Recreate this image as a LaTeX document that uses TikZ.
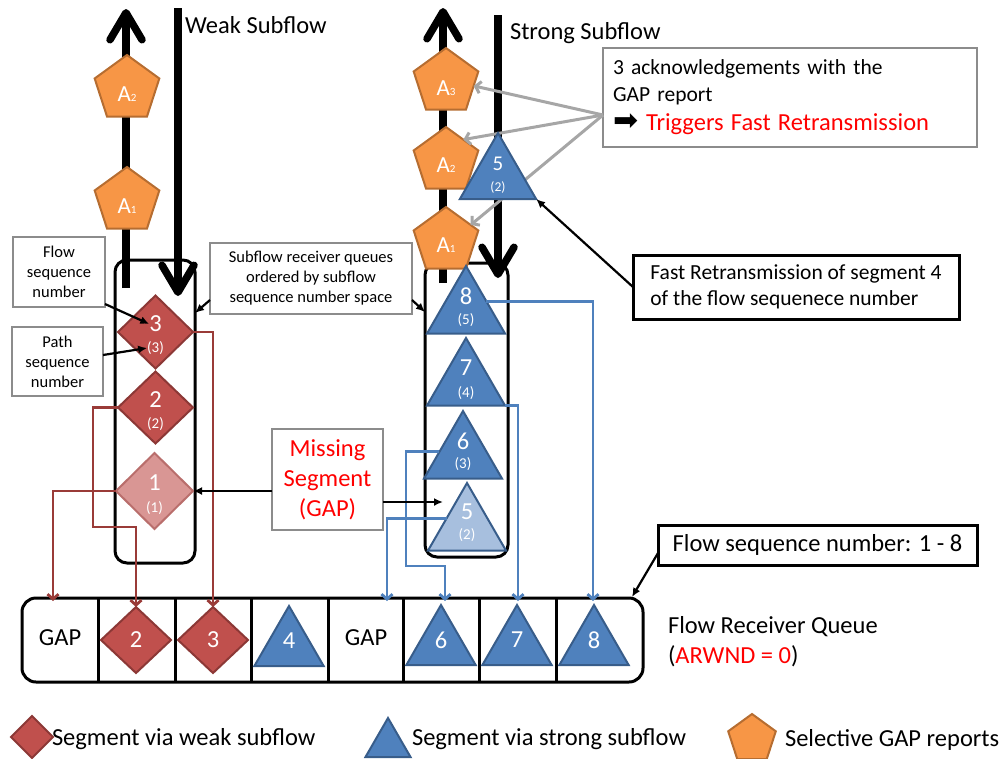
\documentclass[tikz,border=0pt]{standalone}
\usepackage{fontspec}
\setmainfont{Carlito}
\newfontfamily\dingfont{DejaVu Sans}
\usetikzlibrary{arrows.meta,shapes.geometric,calc}

\definecolor{segred}{HTML}{C0504D}
\definecolor{segredline}{HTML}{8C3836}
\definecolor{seglightred}{HTML}{D99694}
\definecolor{seglightredline}{HTML}{B96E6C}
\definecolor{segblue}{HTML}{4F81BD}
\definecolor{segblueline}{HTML}{385D8A}
\definecolor{seglightblue}{HTML}{A7BFDE}
\definecolor{ackorange}{HTML}{F79646}
\definecolor{ackorangeline}{HTML}{B66D31}
\definecolor{wirered}{HTML}{9A3B38}
\definecolor{wireblue}{HTML}{4F81BD}
\definecolor{notegray}{HTML}{8C8C8C}
\definecolor{ackgray}{HTML}{A6A6A6}
\definecolor{alertred}{HTML}{FF0000}

\newcommand\txtbig{\fontsize{24.5}{30}\selectfont}
\newcommand\txtmid{\fontsize{21.5}{27}\selectfont}
\newcommand\txtsmall{\fontsize{16.5}{20}\selectfont}
\newcommand\ackidx[1]{{\fontsize{11}{10}\selectfont #1}}

\begin{document}
\begin{tikzpicture}[x=1pt,y=-1pt,
  every node/.style={inner sep=0pt,outer sep=0pt},
  subqueue/.style={draw=black,line width=3,rounded corners=12},
  flowarrow/.style={line width=7.5,-{Straight Barb[length=27pt,width=32pt,line width=7.5pt,round]}},
  weakseg/.style={diamond,draw=segredline,fill=segred,line width=2},
  weaklost/.style={diamond,draw=seglightredline,fill=seglightred,line width=2},
  strongseg/.style={regular polygon,regular polygon sides=3,draw=segblueline,fill=segblue,line width=2},
  stronglost/.style={strongseg,fill=seglightblue},
  gapack/.style={regular polygon,regular polygon sides=5,draw=ackorangeline,fill=ackorange,line width=2},
  segnum/.style={text=white,font=\fontsize{24.5}{25}\selectfont},
  segsub/.style={text=white,font=\fontsize{15}{15}\selectfont},
  acklabel/.style={text=white,font=\fontsize{23}{23}\selectfont},
  notebox/.style={draw=notegray,line width=1.2,fill=white,align=center,font=\txtsmall},
  keybox/.style={draw=black,line width=3,fill=white},
  bigtext/.style={font=\txtbig},
  notearrow/.style={draw=black,line width=2.2,-{Latex[length=9pt,width=8pt]}},
  ackarrow/.style={draw=ackgray,line width=3,-{Straight Barb[length=5pt,width=12pt]}},
  redwire/.style={draw=wirered,line width=2.8,-{Straight Barb[length=5pt,width=11pt]}},
  bluewire/.style={draw=wireblue,line width=2.8,-{Straight Barb[length=5pt,width=11pt]}}
]
\useasboundingbox (0,0) rectangle (1008,758);

% ---- subflow receiver queues
\node[subqueue,minimum width=80,minimum height=303] (wq) at (155,411.5) {};
\node[subqueue,minimum width=83,minimum height=294] (sq) at (466.5,410) {};

% ---- subflow directions (data down, GAP reports up)
\coordinate (wupfrom) at (126,288);
\coordinate (wupto) at (126,9);
\coordinate (wdnfrom) at (178,8);
\coordinate (wdnto) at (178,296);
\coordinate (supfrom) at (443,283);
\coordinate (supto) at (443,8);
\coordinate (sdnfrom) at (498,15);
\coordinate (sdnto) at (498,278);
\draw[flowarrow] (wupfrom) -- (wupto);
\draw[flowarrow] (wdnfrom) -- (wdnto);
\draw[flowarrow] (supfrom) -- (supto);
\draw[flowarrow] (sdnfrom) -- (sdnto);
\node[bigtext,anchor=base west] (wtitle) at (185,33) {Weak Subflow};
\node[bigtext,anchor=base west] (stitle) at (510,39) {Strong Subflow};

% ---- selective GAP reports
\node[gapack,minimum size=68] (wA2) at (127,89) {};
\node[acklabel] (wA2t) at (127,94) {A\ackidx{2}};
\node[gapack,minimum size=68] (wA1) at (127,201) {};
\node[acklabel] (wA1t) at (127,206) {A\ackidx{1}};
\node[gapack,minimum size=68] (sA3) at (446,82) {};
\node[acklabel] (sA3t) at (446,88) {A\ackidx{3}};
\node[gapack,minimum size=68] (sA2) at (446,161) {};
\node[acklabel] (sA2t) at (446,165) {A\ackidx{2}};
\node[gapack,minimum size=68] (sA1) at (446,241) {};
\node[acklabel] (sA1t) at (446,245) {A\ackidx{1}};

% ---- note on the three acknowledgements
\node[notebox,align=left,text width=354,minimum width=374,minimum height=99,font=\txtmid] (ackb) at (790,97.5)
  {3 acknowledgements with the\\GAP report\\[2pt]\smash{\dingfont\fontsize{30}{20}\selectfont ➡}\hspace{8pt}{\color{alertred}\txtbig Triggers Fast Retransmission}};
\draw[ackarrow] (ackb.west |- 0,115) -- (sA3.-8);
\draw[ackarrow] (ackb.west |- 0,115) -- (sA2.51);
\draw[ackarrow] (ackb.west |- 0,115) -- (sA1.33);

% ---- retransmitted segment 4
\node[strongseg,minimum size=88] (t5r) at (498,177) {};
\node[text=white,font=\fontsize{21}{21}\selectfont] (t5rn) at (498,164) {5};
\node[text=white,font=\fontsize{13.5}{14}\selectfont] (t5rs) at (498,187) {(2)};

% ---- weak subflow queue contents
\node[weakseg,minimum width=75,minimum height=73] (d3) at (155.5,332) {};
\node[segnum] (d3n) at (155.5,324) {3};
\node[segsub] (d3s) at (155.5,348) {(3)};
\node[weakseg,minimum width=75,minimum height=72] (d2) at (155.5,407.5) {};
\node[segnum] (d2n) at (155.5,400) {2};
\node[segsub] (d2s) at (155.5,424) {(2)};
\node[weaklost,minimum width=77,minimum height=76] (d1) at (154.5,491) {};
\node[segnum] (d1n) at (154.5,483) {1};
\node[segsub] (d1s) at (154.5,508) {(1)};

% ---- strong subflow queue contents
\node[strongseg,minimum size=90] (t8) at (466,311) {};
\node[segnum] (t8n) at (466,296) {8};
\node[segsub] (t8s) at (466,320) {(5)};
\node[strongseg,minimum size=90] (t7) at (466,383) {};
\node[segnum] (t7n) at (466,368) {7};
\node[segsub] (t7s) at (466,393) {(4)};
\node[strongseg,minimum size=90] (t6) at (463,456) {};
\node[segnum] (t6n) at (463,441) {6};
\node[segsub] (t6s) at (463,464) {(3)};
\node[stronglost,minimum size=90] (t5) at (467,528) {};
\node[segnum] (t5n) at (467,512) {5};
\node[segsub] (t5s) at (467,535) {(2)};

% ---- flow receiver queue
\node[draw=black,line width=3,rounded corners=14,minimum width=621,minimum height=84] (rq) at (332.5,640) {};
\foreach \cx in {98,175,251,328,403,479,556}
  \draw[line width=3] (rq.north -| \cx,0) -- (rq.south -| \cx,0);
\node[bigtext] (qg1) at (60,638) {GAP};
\node[weakseg,minimum width=70,minimum height=66] (q2) at (136,640) {};
\node[segnum] (q2n) at (136,640) {2};
\node[weakseg,minimum width=70,minimum height=66] (q3) at (213,640) {};
\node[segnum] (q3n) at (213,640) {3};
\node[strongseg,minimum size=80] (q4) at (289,646) {};
\node[segnum] (q4n) at (289,641) {4};
\node[bigtext] (qg2) at (366,638) {GAP};
\node[strongseg,minimum size=80] (q6) at (441,645) {};
\node[segnum] (q6n) at (441,640) {6};
\node[strongseg,minimum size=80] (q7) at (517,645) {};
\node[segnum] (q7n) at (517,640) {7};
\node[strongseg,minimum size=80] (q8) at (594,645) {};
\node[segnum] (q8n) at (594,640) {8};
\node[bigtext,anchor=base west,align=left] (rqlabel) at (668,663)
  {Flow Receiver Queue\\({\color{alertred}ARWND = 0})};

% ---- delivery of segments into the flow receiver queue
\coordinate (in1) at (53,601);
\coordinate (in5) at (387,601);
\coordinate (in6) at (445,601);
\coordinate (in7) at (518,601);
\coordinate (in8) at (593,601);
\coordinate (d2bend) at (93,527);
\coordinate (t6bend) at (406,566);
\draw[redwire] (d3.east) -| (q3.north);
\draw[redwire] (d2.west) -| (d2bend) -| (q2.north);
\draw[redwire] (d1.west) -| (in1);
\draw[bluewire] (t8.25) -| (in8);
\draw[bluewire] (t7.corner 3) -| (in7);
\draw[bluewire] (t6.170) -| (t6bend) -| (in6);
\draw[bluewire] (t5.155) -| (in5);

% ---- explanatory notes
\node[notebox,minimum width=92,minimum height=70] (fsn) at (59,272) {Flow\\sequence\\number};
\node[notebox,minimum width=91,minimum height=69] (psn) at (57.5,361.5) {Path\\sequence\\number};
\node[notebox,minimum width=202,minimum height=71] (srq) at (311,278.5)
  {Subflow receiver queues\\ordered by subflow\\sequence number space};
\draw[notearrow] (fsn.east |- 0,304) -- (d3n.west);
\draw[notearrow] (psn.east |- 0,355) -- (d3s.west);
\draw[notearrow] (srq.west |- 0,300) -- (wq.east |- 0,313);
\draw[notearrow] (srq.east |- 0,300) -- (sq.west |- 0,312);

\node[notebox,minimum width=111,minimum height=101,text=alertred,font=\fontsize{24.5}{30}\selectfont] (ms) at (327.5,479.5)
  {Missing\\Segment\\(GAP)};
\coordinate (gap5) at (443,502);
\draw[notearrow] (ms.west |- d1.east) -- (d1.east);
\draw[notearrow] (ms.east |- gap5) -- (gap5);

\node[keybox,align=left,minimum width=326,minimum height=64,font=\fontsize{21.5}{26.5}\selectfont] (frb) at (796,287)
  {Fast Retransmission of segment 4\\of the flow sequenece number};
\draw[notearrow] (frb.west) -- (t5r.corner 3);

\node[keybox,minimum width=319,minimum height=40,font=\txtbig] (fsb) at (817.5,545) {Flow sequence number: 1 - 8};
\draw[notearrow] (fsb.west |- 0,553) -- ($(rq.north east)+(-11,-1)$);

% ---- legend
\node[weakseg,minimum width=42,minimum height=42] (lgw) at (32,737) {};
\node[bigtext,anchor=base west] (lgwt) at (52,745) {Segment via weak subflow};
\node[strongseg,minimum size=52] (lgs) at (388,744) {};
\node[bigtext,anchor=base west] (lgst) at (412,745) {Segment via strong subflow};
\node[gapack,minimum size=50] (lgp) at (752,739) {};
\node[bigtext,anchor=base west] (lgpt) at (785,746) {Selective GAP reports};
\end{tikzpicture}
\end{document}
